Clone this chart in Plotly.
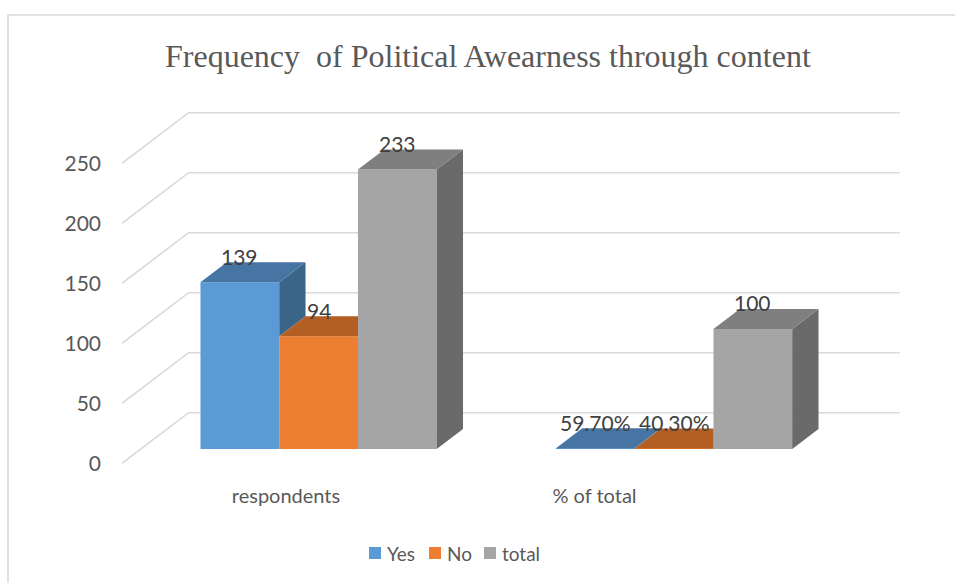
import plotly.graph_objects as go

# ---- data -------------------------------------------------------------
categories = ["respondents", "% of total"]
series_names = ["Yes", "No", "total"]
yes_values = [139, 0.597]
no_values = [94, 0.403]
total_values = [233, 100]
y_ticks = [0, 50, 100, 150, 200, 250]

# ---- styling ----------------------------------------------------------
front_colors = ["#5B9BD5", "#ED7D31", "#A5A5A5"]
top_colors = ["#4675A3", "#B35E22", "#7F7F7F"]
side_colors = ["#3B6489", "#9E5320", "#6A6A6A"]
GRID = "#D9D9D9"
TEXT = "#595959"
LABEL = "#404040"
SANS = "Lato"
SERIF = "Liberation Serif"

# ---- geometry (pixels of the 955x583 canvas) --------------------------
W, H = 955, 583
PL, PR, PT, PB = 122, 900, 100, 470      # plot area
SLOT = 355.5                             # px per category slot (front plane)
PXV = 1.2                                # px per value unit
Y0 = 463.3                               # px of the front floor edge
DEPTH_X = 66.6 / SLOT                    # x shift, front wall -> back wall
DEPTH_Y = 50.6 / PXV                     # y shift, front wall -> back wall
D0, D1 = 0.283, 0.678                    # depth of the bars' front / back faces
BW = 0.2215                              # bar width in category units

x_range = [-0.5, -0.5 + (PR - PL) / SLOT]
y_range = [-(PB - Y0) / PXV, (Y0 - PT) / PXV]


def xp(px):
    return (px - PL) / (PR - PL)


def yp(py):
    return (PB - py) / (PB - PT)


def fmt(v):
    return f"{v * 100:.2f}%" if v < 1 else f"{v:g}"


series = [yes_values, no_values, total_values]
base = D0 * DEPTH_Y
dxs = (D1 - D0) * DEPTH_X
dys = (D1 - D0) * DEPTH_Y

fig = go.Figure()

# front faces of the bars
for k, (name, vals) in enumerate(zip(series_names, series)):
    fig.add_trace(go.Bar(
        name=name,
        x=[i + (k - 1) * BW + D0 * DEPTH_X for i in range(len(categories))],
        y=vals,
        base=base,
        width=BW,
        marker=dict(color=front_colors[k], line=dict(width=0)),
        showlegend=False,
        hoverinfo="skip",
    ))

# top and side faces, clipped where the neighbouring bar hides them
annotations = []
for i in range(len(categories)):
    for k, vals in enumerate(series):
        v = vals[i]
        v_next = series[k + 1][i] if k + 1 < len(series) else 0
        xl = i + (k - 1) * BW - BW / 2 + D0 * DEPTH_X
        xr = xl + BW
        top = base + v
        # side face
        if v > v_next:
            lo = base + v_next
            fig.add_trace(go.Scatter(
                x=[xr, xr, xr + dxs, xr + dxs, xr],
                y=[lo, top, top + dys, lo + dys, lo],
                fill="toself", fillcolor=side_colors[k], mode="lines",
                line=dict(width=0), showlegend=False, hoverinfo="skip"))
        # top face
        if v_next > v:
            tx = [xl, xr, xr, xl + dxs, xl]
            ty = [top, top, top + dys, top + dys, top]
        else:
            tx = [xl, xr, xr + dxs, xl + dxs, xl]
            ty = [top, top, top + dys, top + dys, top]
        fig.add_trace(go.Scatter(
            x=tx, y=ty, fill="toself", fillcolor=top_colors[k], mode="lines",
            line=dict(width=0), showlegend=False, hoverinfo="skip"))
        # value label
        annotations.append(dict(
            x=(xl + xr) / 2, y=v + D1 * DEPTH_Y, xref="x", yref="y",
            text=fmt(v), showarrow=False, yanchor="middle", yshift=6,
            font=dict(family=SANS, size=21, color=LABEL)))

# side wall and back wall gridlines
shapes = []
for v in y_ticks:
    shapes.append(dict(
        type="path", xref="x", yref="y", layer="below",
        path=(f"M {x_range[0]},{v} L {x_range[0] + DEPTH_X},{v + DEPTH_Y} "
              f"L {x_range[0] + 2 + DEPTH_X},{v + DEPTH_Y}"),
        line=dict(color=GRID, width=1.6)))

# chart border
shapes.append(dict(
    type="path", xref="paper", yref="paper", layer="below",
    path=f"M {xp(8)},{yp(H + 5)} L {xp(8)},{yp(15)} L {xp(W + 5)},{yp(15)}",
    line=dict(color=GRID, width=1.6)))

# legend
legend_x = [369, 429, 484]
for k, name in enumerate(series_names):
    shapes.append(dict(
        type="rect", xref="paper", yref="paper",
        x0=xp(legend_x[k]), x1=xp(legend_x[k] + 12),
        y0=yp(559), y1=yp(547),
        fillcolor=front_colors[k], line=dict(width=0)))
    annotations.append(dict(
        x=xp(legend_x[k] + 16), y=yp(553), xref="paper", yref="paper",
        text=name, showarrow=False, xanchor="left", yanchor="middle",
        font=dict(family=SANS, size=19, color=TEXT)))

# title
annotations.append(dict(
    x=xp(487.5), y=yp(56), xref="paper", yref="paper",
    text="Frequency  of Political Awearness through content",
    showarrow=False, xanchor="center", yanchor="middle",
    font=dict(family=SERIF, size=32, color=TEXT)))

fig.update_layout(
    width=W, height=H,
    margin=dict(l=PL, r=W - PR, t=PT, b=H - PB, pad=0),
    paper_bgcolor="white", plot_bgcolor="white",
    barmode="overlay",
    showlegend=False,
    shapes=shapes,
    annotations=annotations,
    xaxis=dict(
        range=x_range, showgrid=False, zeroline=False, showline=False,
        tickvals=[-0.0387, 0.829], ticktext=categories, ticks="",
        ticklabelstandoff=12,
        tickfont=dict(family=SANS, size=20, color=TEXT), fixedrange=True),
    yaxis=dict(
        range=y_range, showgrid=False, zeroline=False, showline=False,
        tickvals=y_ticks, ticks="", ticklabelstandoff=20,
        tickfont=dict(family=SANS, size=21, color=TEXT), fixedrange=True),
)

fig.write_html("out.html")
